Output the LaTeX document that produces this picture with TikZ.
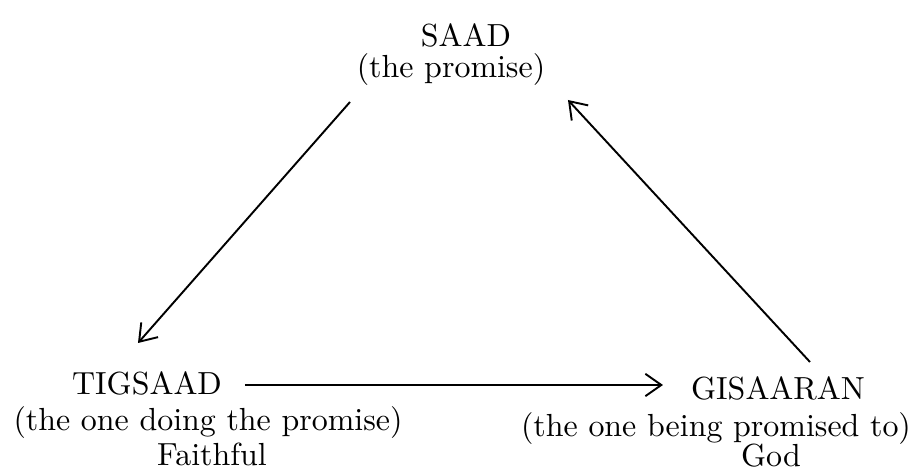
\documentclass[tikz,border=0pt]{standalone}
\usetikzlibrary{arrows.meta}
\tikzset{every picture/.style={line width=0.6pt,inner sep=0pt},
  lbl/.style={anchor=base,font=\normalsize},
  pr/.style={-{Straight Barb[length=5pt,width=7pt]}}}

\begin{document}
\begin{tikzpicture}[x=0.011cm,y=0.011cm]
\useasboundingbox (0,0) rectangle (922,470);
\node[lbl] (saad) at (466,423) {SAAD};
\node[lbl] (saaddesc) at (451,392) {(the promise)};
\node[lbl] (tig) at (147,75) {TIGSAAD};
\node[lbl] (tigdesc) at (208,39) {(the one doing the promise)};
\node[lbl] (faith) at (212,4) {Faithful};
\node[lbl] (gis) at (778,70) {GISAARAN};
\node[lbl] (gisdesc) at (716,33) {(the one being promised to)};
\node[lbl] (god) at (771,3) {God};
\draw[pr] ([shift={(-101,-24)}]saaddesc.base) -- ([shift={(-9,52)}]tig.base);
\draw[pr] ([shift={(98,10)}]tig.base) -- ([shift={(-115,15)}]gis.base);
\draw[pr] ([shift={(32,38)}]gis.base) -- ([shift={(117,-22)}]saaddesc.base);
\end{tikzpicture}
\end{document}
